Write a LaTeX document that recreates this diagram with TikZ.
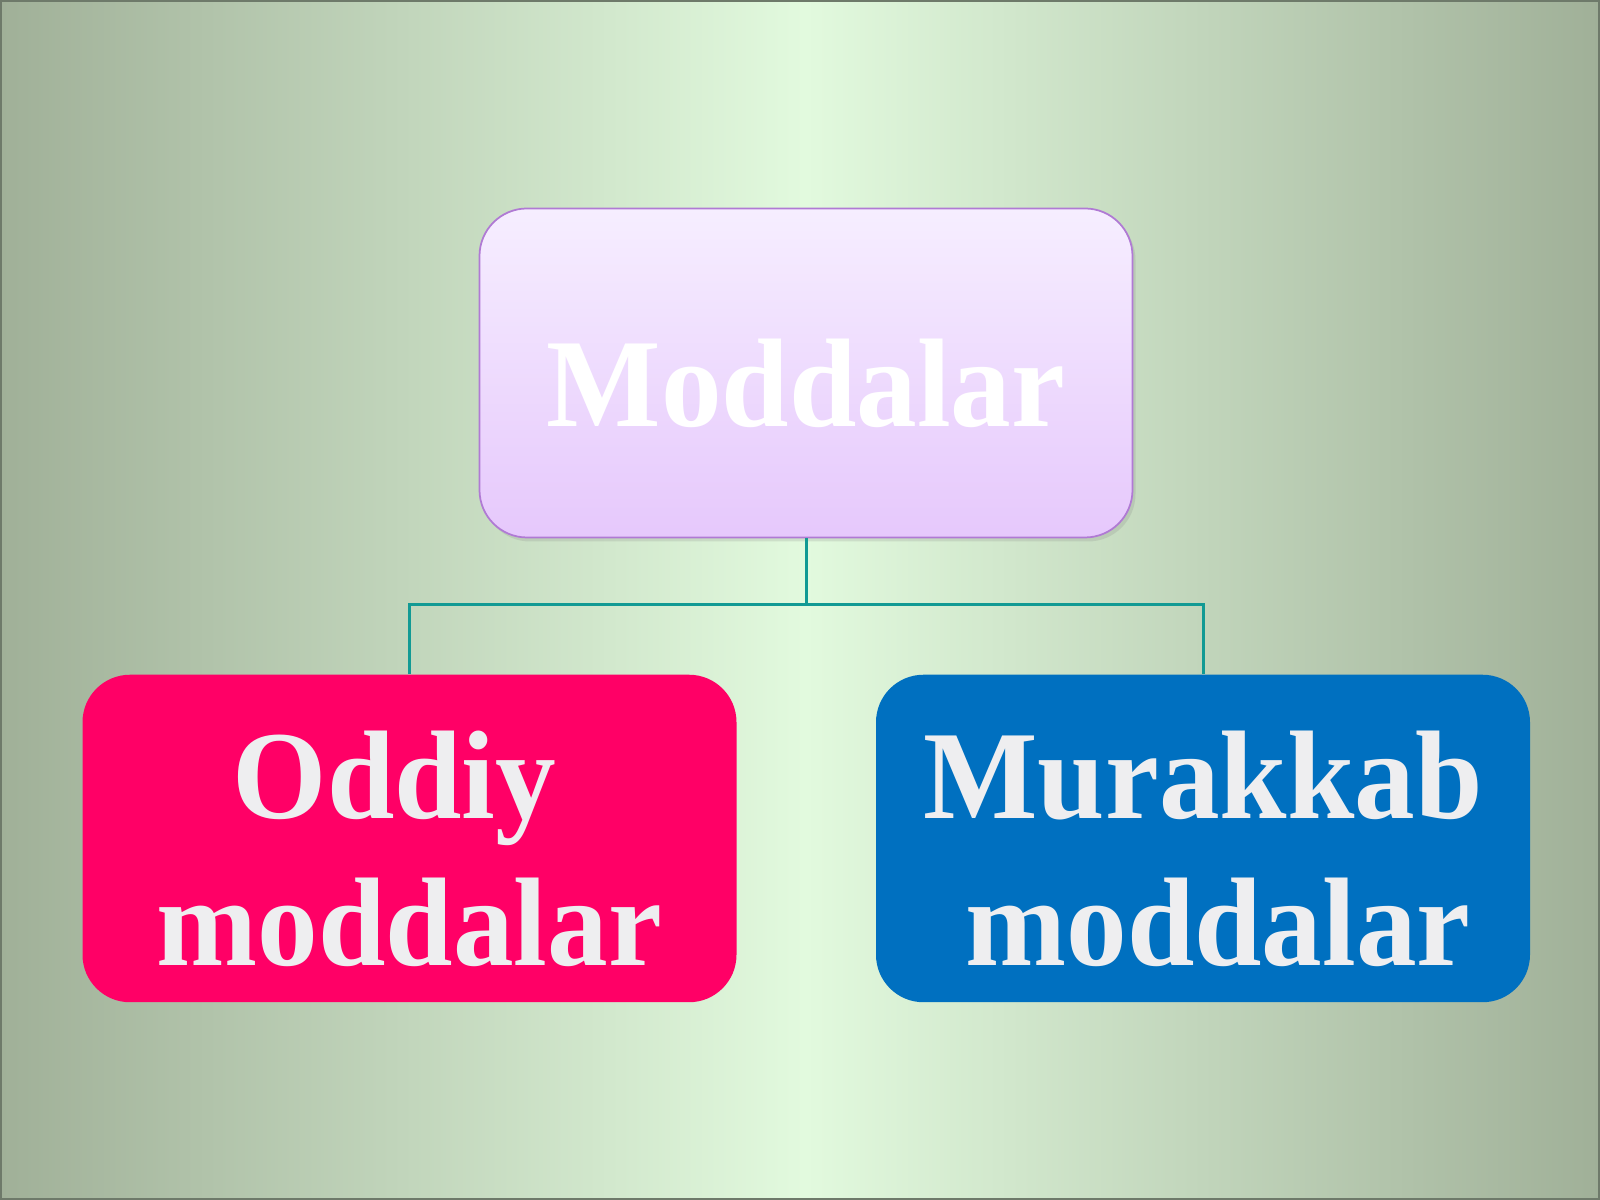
\documentclass[tikz,border=0pt]{standalone}
\usepackage{fontspec}
\setmainfont{Liberation Serif}
\usetikzlibrary{positioning,shadows}
\definecolor{bgedge}{HTML}{A0B098}
\definecolor{bgmid}{HTML}{E2FADE}
\definecolor{bgline}{HTML}{6E7A6A}
\definecolor{topup}{HTML}{F6EEFF}
\definecolor{topdown}{HTML}{E6C8FC}
\definecolor{topline}{HTML}{B07AD4}
\definecolor{oddiy}{HTML}{FF0066}
\definecolor{murakkab}{HTML}{0070C0}
\definecolor{wire}{HTML}{129A94}
\definecolor{lettr}{HTML}{EEEEF0}
\tikzset{
  kind/.style={rounded corners=0.95cm, minimum width=13.08cm, minimum height=6.55cm, inner sep=0pt},
  kindtext/.style={align=center, font=\bfseries\fontsize{69}{80}\selectfont, text=lettr,
    inner sep=0pt, transform shape, yscale=1.04, yshift=-0.2cm},
  wirepath/.style={draw=wire, line width=0.06cm}
}

\begin{document}
\begin{tikzpicture}
 % background
 \useasboundingbox (0,0) rectangle (32,24);
 \fill[left color=bgedge, right color=bgmid] (0,0) rectangle (16.1,24);
 \fill[left color=bgmid, right color=bgedge] (16.1,0) rectangle (32,24);
 \draw[bgline, line width=0.04cm] (0.02,0.02) rectangle (31.98,23.98);

 \node[kind, top color=topup, bottom color=topdown, draw=topline, line width=0.035cm,
   drop shadow={opacity=0.2, shadow xshift=0.06cm, shadow yshift=-0.08cm},
   minimum width=13.06cm, minimum height=6.58cm,
   label={[kindtext, text=white]center:Moddalar}] (modda) at (16.12,16.54) {};
 \node[kind, fill=oddiy,
   label={[kindtext]center:Oddiy\hspace*{0.6cm}\\moddalar}] (oddiy) at (8.19,7.23) {};
 \node[kind, fill=murakkab,
   label={[kindtext]center:Murakkab\\\hspace*{0.6cm}moddalar}] (murakkab) at (24.06,7.23) {};

 \coordinate (bus) at (16.12,11.9);
 \draw[wirepath] (modda.south) -- (bus) -| (oddiy.north);
 \draw[wirepath] (bus) -| (murakkab.north);
\end{tikzpicture}
\end{document}
